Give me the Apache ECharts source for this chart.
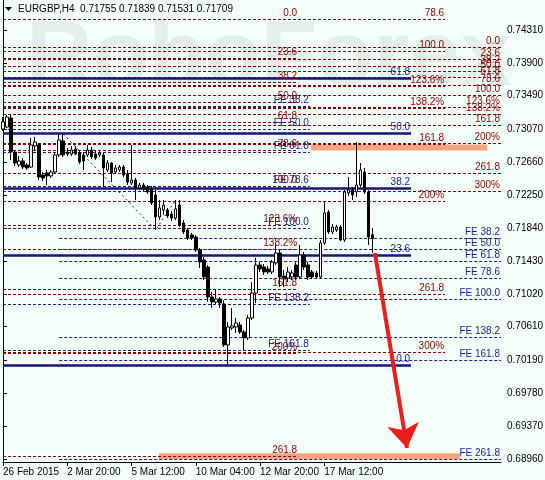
<!DOCTYPE html>
<html><head><meta charset="utf-8">
<script src="https://cdn.jsdelivr.net/npm/echarts@6/dist/echarts.min.js"></script>
<style>html,body{margin:0;padding:0;background:#F5FFFA}#c{width:545px;height:480px}</style>
</head><body><div id="c"></div>
<script>
// ---------- DATA ----------
const symbolName = 'EURGBP,H4';
const xTickIdx = [0, 16, 32, 48, 64, 80];
const xTickText = ['26 Feb 2015', '2 Mar 20:00', '5 Mar 12:00', '10 Mar 04:00', '12 Mar 20:00', '17 Mar 12:00'];
const yTicks = [0.68960, 0.69370, 0.69780, 0.70190, 0.70610, 0.71020, 0.71430, 0.71840, 0.72250, 0.72660, 0.73070, 0.73490, 0.73900, 0.74310];
const priceMin = 0.68922, priceMax = 0.74684, barSlots = 124;

const candleOpen = [0.73075,0.73100,0.73212,0.72788,0.72626,0.72676,0.72626,0.72601,0.72863,0.72876,
0.72502,0.72527,0.72489,0.72539,0.72751,0.72926,0.72788,0.72763,0.72826,0.72776,
0.72751,0.72751,0.72813,0.72763,0.72751,0.72751,0.72564,0.72651,0.72539,0.72564,
0.72601,0.72514,0.72402,0.72439,0.72340,0.72377,0.72352,0.72327,0.72252,0.71978,
0.72065,0.72065,0.72015,0.71965,0.72127,0.71903,0.71816,0.71753,0.71728,0.71566,
0.71442,0.71354,0.70980,0.70918,0.70955,0.70893,0.70382,0.70594,0.70606,0.70631,
0.70544,0.70469,0.70718,0.71030,0.71379,0.71354,0.71329,0.71292,0.71404,0.71529,
0.71242,0.71217,0.71230,0.71379,0.71230,0.71504,0.71379,0.71292,0.71279,0.71230,
0.71654,0.72040,0.71791,0.71816,0.71853,0.71691,0.72277,0.72315,0.72290,0.72377,
0.72539,0.72290,0.71755];
const candleClose = [0.73163,0.73225,0.72788,0.72651,0.72676,0.72601,0.72589,0.72876,0.72913,0.72477,
0.72464,0.72489,0.72539,0.72751,0.72938,0.72751,0.72763,0.72813,0.72763,0.72664,
0.72676,0.72813,0.72726,0.72714,0.72776,0.72589,0.72651,0.72527,0.72589,0.72601,
0.72502,0.72414,0.72439,0.72340,0.72377,0.72327,0.72290,0.72152,0.71978,0.72090,
0.72127,0.71990,0.71965,0.72078,0.71878,0.71791,0.71716,0.71716,0.71566,0.71417,
0.71230,0.70980,0.70918,0.70955,0.70905,0.70382,0.70606,0.70619,0.70656,0.70544,
0.70469,0.70718,0.71030,0.71379,0.71329,0.71292,0.71292,0.71417,0.71529,0.71230,
0.71217,0.71292,0.71279,0.71230,0.71504,0.71354,0.71230,0.71230,0.71230,0.71654,
0.72028,0.71791,0.71853,0.71853,0.71691,0.72290,0.72315,0.72252,0.72377,0.72564,
0.72290,0.71728,0.71709];
const candleLow = [0.73050,0.73088,0.72689,0.72614,0.72601,0.72576,0.72564,0.72589,0.72813,0.72439,
0.72427,0.72377,0.72464,0.72514,0.72726,0.72726,0.72739,0.72739,0.72751,0.72639,
0.72564,0.72726,0.72701,0.72689,0.72726,0.72352,0.72539,0.72414,0.72514,0.72539,
0.72477,0.72377,0.72377,0.72190,0.72315,0.72302,0.72265,0.72127,0.71816,0.71940,
0.72003,0.71965,0.71928,0.71940,0.71853,0.71766,0.71691,0.71691,0.71541,0.71342,
0.71192,0.70918,0.70843,0.70893,0.70843,0.70357,0.70132,0.70569,0.70531,0.70519,
0.70319,0.70444,0.70693,0.70905,0.71292,0.71255,0.71267,0.71267,0.71379,0.71105,
0.71105,0.71167,0.71192,0.71192,0.71205,0.71317,0.71192,0.71205,0.71217,0.71205,
0.71629,0.71766,0.71766,0.71791,0.71679,0.71666,0.72240,0.72190,0.72227,0.72352,
0.72265,0.71629,0.71531];
const candleHigh = [0.73225,0.73250,0.73250,0.72813,0.72739,0.72714,0.72651,0.72963,0.72976,0.72901,
0.72539,0.72564,0.72564,0.72788,0.73013,0.73013,0.72838,0.72863,0.72863,0.72813,
0.72788,0.72876,0.72851,0.72801,0.72801,0.72776,0.72689,0.72664,0.72626,0.72626,
0.72626,0.72564,0.72876,0.72464,0.72402,0.72402,0.72377,0.72364,0.72315,0.72190,
0.72190,0.72090,0.72053,0.72190,0.72190,0.71940,0.71841,0.71778,0.71753,0.71591,
0.71479,0.71379,0.71043,0.71067,0.70980,0.70943,0.70668,0.70843,0.70718,0.70668,
0.70569,0.70756,0.71167,0.71467,0.71417,0.71392,0.71367,0.71442,0.71629,0.71566,
0.71317,0.71354,0.71317,0.71417,0.71629,0.71541,0.71417,0.71317,0.71304,0.71691,
0.72165,0.72065,0.71891,0.71878,0.71878,0.72315,0.72477,0.72352,0.72913,0.72651,
0.72589,0.72315,0.71839];

// Fibonacci retracement A
const fibALabels = ['0.0','23.6','38.2','50.0','61.8','78.6','100.0','123.6%','138.2%','161.8','200%','261.8'];
const fibAPrices = [0.74447,0.73956,0.73652,0.73406,0.73160,0.72811,0.72365,0.71874,0.71570,0.71078,0.70283,0.68996];
const fibASpan = [0, 73.5];
// Fibonacci retracement B
const fibBLabels = ['78.6','100.0','123.6%','138.2%','161.8','200%','261.8','300%'];
const fibBPrices = [0.74450,0.74048,0.73605,0.73331,0.72888,0.72171,0.71011,0.70294];
const fibBSpan = [0, 110.1];
// Fibonacci retracement C (right edge)
const fibCLabels = ['0.0','23.6','38.2','50.0','61.8','78.6','100.0','123.6%','138.2%','161.8','200%','261.8','300%'];
const fibCPrices = [0.74092,0.73951,0.73863,0.73793,0.73722,0.73621,0.73493,0.73352,0.73264,0.73123,0.72894,0.72524,0.72295];
const fibCSpan = [0, 124];
// Solid retracement
const fibDLabels = ['0.0','23.6','38.2','50.0','61.8'];
const fibDPrices = [0.70132,0.71498,0.72342,0.73025,0.73708];
const fibDSpan = [0, 101.6];
// Fibonacci expansion 1 (right edge)
const fe1Labels = ['FE 38.2','FE 50.0','FE 61.8','FE 78.6','FE 100.0','FE 138.2','FE 161.8','FE 261.8'];
const fe1Prices = [0.71718,0.71572,0.71426,0.71219,0.70955,0.70484,0.70192,0.68958];
const fe1Span = [14, 124];
// Fibonacci expansion 2
const fe2Labels = ['FE 38.2','FE 50.0','FE 61.8','FE 78.6','FE 100.0','FE 138.2','FE 161.8'];
const fe2Prices = [0.73361,0.73070,0.72779,0.72364,0.71836,0.70893,0.70311];
const fe2Span = [0, 76.4];
// Expansion anchor points (bar indexes)
const feAnchorBars = [15, 38, 43];
// Highlighted zones
const zonePrices = [0.72845, 0.68994];
const zoneSpans = [[76.7, 120.5], [38.8, 113.8]];
// Forecast arrow
const arrowFrom = [92.6, 0.71529];
const arrowTo = [100.6, 0.69097];

// ---------- CHART ----------
const FONT = 'Liberation Sans, Arial, sans-serif';
const RED = '#8B0000', NAVY = '#1C1C8A';
const lastIdx = candleClose.length - 1;

function fibSeries(prices, labels, span, lineStyle, textColor, z) {
  return {
    type: 'line', data: [[span[0], prices[0]]], showSymbol: false, symbol: 'none',
    lineStyle: { width: 0 }, z: z, silent: true, animation: false,
    markLine: {
      silent: true, symbol: ['none', 'none'], animation: false,
      lineStyle: lineStyle,
      label: { show: true, position: 'insideEndTop', distance: [1, 1], color: textColor,
        fontSize: 10, fontFamily: FONT, formatter: p => p.name },
      emphasis: { disabled: true },
      data: prices.map((p, k) => [{ coord: [span[0], p], name: labels[k] }, { coord: [span[1], p] }])
    }
  };
}

const redDash = { color: RED, width: 1, type: [3, 2], opacity: 1 };
const blueDash = { color: NAVY, width: 1, type: [3, 2], opacity: 1 };
const blueSolid = { color: '#15157A', width: 2.5, type: 'solid', opacity: 1 };

const series = [];
zonePrices.forEach((p, k) => series.push({
  type: 'line', data: [[zoneSpans[k][0], p], [zoneSpans[k][1], p]], symbol: 'none', silent: true,
  lineStyle: { color: '#F9A47F', width: 6 }, z: 1, animation: false
}));
series.push(fibSeries(fibCPrices, fibCLabels, fibCSpan, redDash, RED, 3));
series.push(fibSeries(fibBPrices, fibBLabels, fibBSpan, redDash, RED, 3));
series.push(fibSeries(fibAPrices, fibALabels, fibASpan, redDash, RED, 3));
series.push(fibSeries(fe1Prices, fe1Labels, fe1Span, blueDash, NAVY, 3));
series.push(fibSeries(fe2Prices, fe2Labels, fe2Span, blueDash, NAVY, 3));
series.push(fibSeries(fibDPrices, fibDLabels, fibDSpan, blueSolid, NAVY, 4));
series.push({
  type: 'line', symbol: 'none', silent: true, z: 4, animation: false,
  data: [[feAnchorBars[0], candleHigh[feAnchorBars[0]]], [feAnchorBars[1], candleLow[feAnchorBars[1]]], [feAnchorBars[2], candleHigh[feAnchorBars[2]]]],
  lineStyle: { color: NAVY, width: 1, type: [2, 3] }
});
series.push({
  type: 'candlestick', z: 5, silent: true, animation: false, barWidth: 3,
  encode: { x: 0, y: [1, 2, 3, 4] },
  data: candleOpen.map((o, i) => [i, o, candleClose[i], candleLow[i], candleHigh[i]]),
  itemStyle: { color: '#FFFFFF', color0: '#000000', borderColor: '#000000', borderColor0: '#000000', borderWidth: 1 }
});
series.push({
  type: 'lines', coordinateSystem: 'cartesian2d', z: 8, silent: true, animation: false,
  symbol: ['none', 'arrow'], symbolSize: 24,
  lineStyle: { color: '#EE1D1D', width: 4, opacity: 1 },
  itemStyle: { color: '#EE1D1D' },
  data: [{ coords: [arrowFrom, arrowTo] }]
});
series.push({
  type: 'line', data: [[0, candleClose[lastIdx]]], showSymbol: false, symbol: 'none', lineStyle: { width: 0 },
  z: 9, silent: true, animation: false,
  markLine: {
    silent: true, symbol: ['none', 'none'], animation: false,
    lineStyle: { opacity: 0 },
    label: { show: true, position: 'end', distance: 0, color: '#FFFFFF', backgroundColor: '#000000',
      fontSize: 10, fontFamily: FONT, lineHeight: 11, padding: [0, 6, 0, 6], formatter: p => p.value.toFixed(5) },
    data: [{ yAxis: candleClose[lastIdx] }]
  }
});

const lastO = candleOpen[lastIdx], lastH = candleHigh[lastIdx], lastL = candleLow[lastIdx], lastC = candleClose[lastIdx];

const chart = echarts.init(document.getElementById('c'));
chart.setOption({
  backgroundColor: '#F5FFFA',
  animation: false,
  grid: { left: 3, right: 44, top: 0, bottom: 18, outerBoundsMode: 'none', containLabel: false },
  xAxis: {
    type: 'value', min: 0, max: barSlots,
    axisLine: { show: true, onZero: false, lineStyle: { color: '#000', width: 1 } },
    splitLine: { show: false },
    axisTick: { show: true, customValues: xTickIdx, length: 4, lineStyle: { color: '#000' } },
    axisLabel: { customValues: xTickIdx, formatter: v => xTickText[xTickIdx.indexOf(v)], align: 'left',
      margin: 5, color: '#000', fontSize: 10, fontFamily: FONT }
  },
  yAxis: [{
    type: 'value', position: 'right', min: priceMin, max: priceMax, scale: true,
    axisLine: { show: true, lineStyle: { color: '#000', width: 1 } },
    splitLine: { show: false },
    axisTick: { show: true, customValues: yTicks, length: 4, lineStyle: { color: '#000' } },
    axisLabel: { customValues: yTicks, formatter: v => v.toFixed(5), margin: 6, color: '#000', fontSize: 10, fontFamily: FONT }
  }, {
    type: 'value', position: 'left', min: priceMin, max: priceMax, scale: true,
    axisLine: { show: true, lineStyle: { color: '#000', width: 1 } },
    splitLine: { show: false }, axisTick: { show: false }, axisLabel: { show: false }
  }],
  graphic: [
    { type: 'text', left: 26, top: 14, z: -10, silent: true,
      style: { text: 'RoboForex', font: 'bold 92px ' + FONT, fill: '#E3EDEA' } },
    { type: 'polygon', shape: { points: [[5, 7], [12, 7], [8.5, 11]] }, style: { fill: '#000' } },
    { type: 'text', left: 18, top: 4,
      style: { text: symbolName + '  ' + [lastO, lastH, lastL, lastC].map(v => v.toFixed(5)).join(' '),
        font: '10px ' + FONT, fill: '#000' } }
  ],
  series: series
});
</script></body></html>
